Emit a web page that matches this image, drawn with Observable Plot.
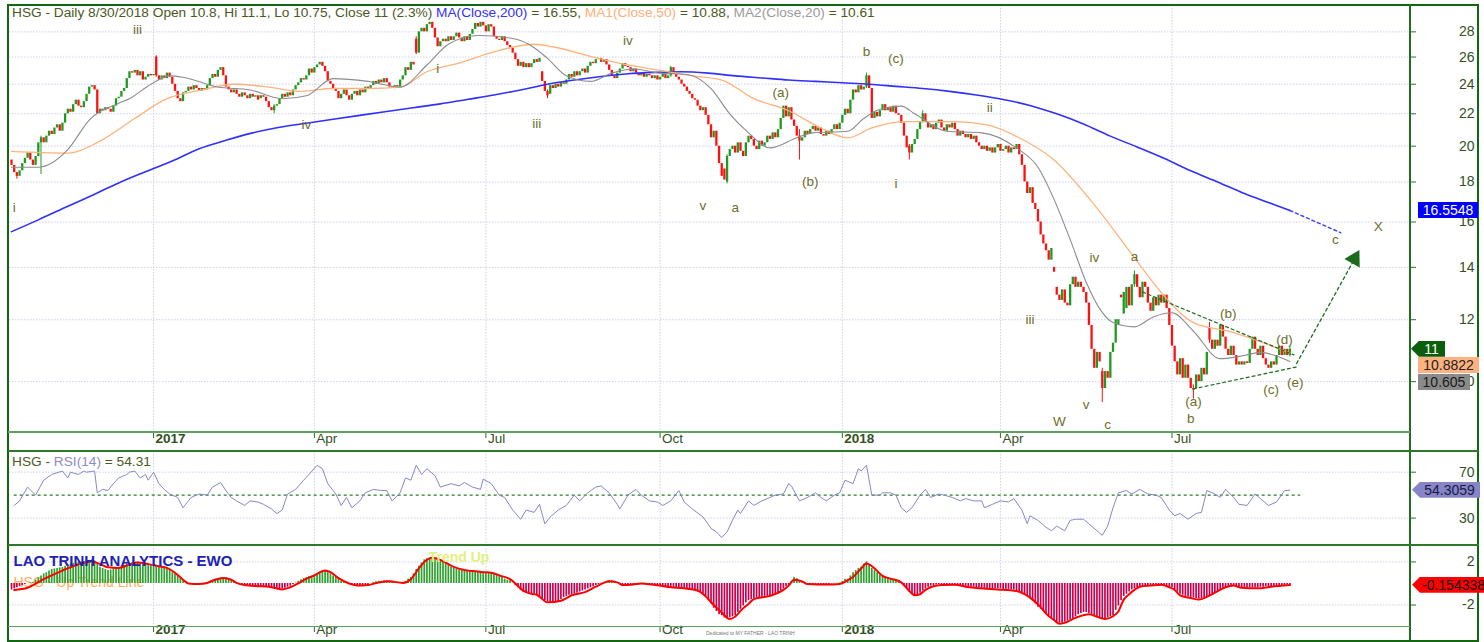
<!DOCTYPE html>
<html>
<head>
<meta charset="utf-8">
<script src="https://cdn.jsdelivr.net/npm/d3@7"></script>
<script src="https://cdn.jsdelivr.net/npm/@observablehq/plot@0.6"></script>
<style>
  html, body { margin: 0; padding: 0; background: #fff; }
  #wrap { position: relative; width: 1484px; height: 642px; overflow: hidden; background: #fff; font-family: "Liberation Sans", Arial, sans-serif; }
  #wrap > svg { position: absolute; left: 0; }
  .ln { position: absolute; z-index: 4; }
  .txt { position: absolute; white-space: nowrap; font-size: 13.7px; line-height: 16px; color: #4a5a1e; z-index: 5; }
  .badge { position: absolute; height: 16px; line-height: 16px; font-size: 14px; text-align: center; z-index: 6; white-space: nowrap; overflow: hidden; box-sizing: border-box; }
</style>
</head>
<body>
<div id="wrap"></div>
<script>
// ---------------- DATA ----------------
// trading-day index ticks on the date axis
const dateTickIdx = [53, 113, 177, 242, 310, 369, 433];
const dateTickLabel = ["2017", "Apr", "Jul", "Oct", "2018", "Apr", "Jul"];

const priceTicks = [10, 12, 14, 16, 18, 20, 22, 24, 26, 28];
const rsiTicks = [30, 70];
const ewoTicks = [-2, 2];

// daily candles (index 0 .. 477), last = 8/30/2018
const open = [
  19.2,18.9,18.5,18.3,18.6,19.0,19.3,19.6,19.2,18.9,
  19.4,20.2,20.5,20.2,20.6,20.9,20.7,21.1,21.3,20.9,
  21.4,22.0,22.3,22.1,22.6,22.9,22.5,22.4,22.8,23.3,
  23.8,23.9,23.6,22.0,22.3,22.2,22.4,22.3,22.1,22.5,
  23.0,23.1,23.5,23.7,24.4,24.9,24.8,25.0,24.6,24.9,
  24.3,24.5,24.7,24.6,26.0,24.6,24.3,24.6,24.4,24.8,
  24.5,24.0,23.5,23.0,22.8,23.4,23.5,23.8,23.6,23.9,
  23.7,23.5,23.7,23.6,23.9,24.4,24.7,24.5,25.0,25.2,
  24.6,23.8,23.6,23.4,23.6,23.3,23.1,23.4,23.2,23.0,
  23.3,23.1,23.2,23.0,23.2,23.1,22.8,22.4,22.2,22.5,
  22.6,23.0,23.3,23.1,23.4,23.2,23.6,23.9,24.1,24.4,
  24.3,24.6,25.1,24.8,25.2,25.4,25.6,25.3,24.9,24.2,
  24.0,23.7,23.5,23.0,23.3,23.6,23.2,22.9,23.3,23.5,
  23.2,23.6,23.4,23.8,23.7,23.9,24.2,24.0,24.3,24.1,
  24.4,24.1,23.8,23.7,23.9,23.8,24.3,24.6,25.2,25.0,
  25.6,27.4,26.3,28.0,28.3,28.0,28.6,28.8,28.3,27.5,
  26.8,27.2,27.4,27.2,27.6,27.3,27.6,27.9,27.5,27.2,
  27.6,27.3,27.8,28.2,28.7,28.4,28.8,28.5,28.0,28.6,
  28.4,27.6,27.4,27.3,27.6,27.2,26.9,26.7,26.3,25.8,
  25.3,25.6,25.2,25.5,25.2,25.5,25.8,25.6,24.9,24.2,
  23.5,23.3,23.9,23.7,24.0,23.8,24.1,24.0,24.3,24.7,
  24.5,24.9,24.6,24.9,25.1,24.8,25.3,25.6,25.5,25.8,
  25.9,25.6,25.8,25.4,25.0,24.6,24.4,24.8,25.1,25.5,
  25.3,25.2,24.9,25.1,24.8,24.6,24.8,24.5,24.7,24.6,
  24.4,24.6,24.3,24.5,24.7,24.4,24.6,25.2,24.7,24.5,
  24.3,24.0,23.8,23.5,23.3,23.0,22.9,22.5,22.2,22.4,
  21.9,21.3,20.5,20.9,20.0,19.0,18.7,18.0,19.4,19.8,
  20.0,19.6,20.2,19.7,19.4,20.2,20.6,20.4,20.0,19.8,
  20.3,20.0,20.2,20.6,20.4,20.8,20.5,21.0,21.7,22.5,
  21.8,22.4,21.6,21.2,20.6,20.3,20.5,20.9,20.7,21.0,
  21.2,20.9,21.1,20.7,20.6,20.9,20.7,21.0,21.3,21.0,
  21.4,21.9,22.3,22.0,22.9,23.6,23.4,23.9,23.6,23.8,
  24.6,23.7,21.7,22.1,21.8,22.2,22.6,22.2,22.4,22.1,
  22.5,22.0,21.9,21.4,20.6,20.0,19.6,20.1,20.4,21.0,
  21.5,22.0,21.5,21.1,21.3,21.0,21.4,21.6,21.1,20.9,
  21.3,21.1,21.4,21.0,20.6,20.9,20.7,20.5,20.7,20.4,
  20.6,20.2,20.0,19.8,20.0,19.7,19.9,19.6,19.9,20.1,
  19.7,19.8,20.0,19.6,19.9,19.8,20.1,19.5,18.9,18.0,
  17.4,17.7,16.9,16.6,16.0,15.4,15.0,14.7,14.3,14.0,
  13.2,12.9,12.7,13.1,12.6,12.5,13.3,13.6,13.2,13.4,
  13.2,13.0,12.6,11.8,11.0,10.4,10.9,10.3,9.8,10.3,
  10.1,10.9,11.2,11.8,12.9,12.2,12.4,13.2,12.5,13.3,
  13.7,13.2,12.8,13.4,13.2,12.6,12.3,12.8,12.5,12.9,
  12.6,12.9,12.4,11.8,11.1,10.6,10.2,10.7,10.1,10.5,
  10.1,9.8,9.8,10.2,10.0,10.4,10.2,11.7,11.3,11.0,
  11.3,11.1,11.8,11.4,11.0,10.8,11.1,10.8,10.5,10.6,
  10.5,10.6,10.55,11.0,11.4,11.0,10.8,11.1,10.7,10.5,
  10.4,10.6,10.5,10.8,11.1,10.8,11.0,10.8
];
const close = [
  18.9,18.5,18.3,18.6,19.0,19.3,19.6,19.2,18.9,19.4,
  20.2,20.5,20.2,20.6,20.9,20.7,21.1,21.3,20.9,21.4,
  22.0,22.3,22.1,22.6,22.9,22.5,22.4,22.8,23.3,23.8,
  23.9,23.6,22.0,22.3,22.2,22.4,22.3,22.1,22.5,23.0,
  23.1,23.5,23.7,24.4,24.9,24.8,25.0,24.6,24.9,24.3,
  24.5,24.7,24.6,24.7,24.6,24.3,24.6,24.4,24.8,24.5,
  24.0,23.5,23.0,22.8,23.4,23.5,23.8,23.6,23.9,23.7,
  23.5,23.7,23.6,23.9,24.4,24.7,24.5,25.0,25.2,24.6,
  23.8,23.6,23.4,23.6,23.3,23.1,23.4,23.2,23.0,23.3,
  23.1,23.2,22.9,23.2,23.1,22.8,22.4,22.2,22.5,22.6,
  23.0,23.3,23.1,23.4,23.2,23.6,23.9,24.1,24.4,24.3,
  24.6,25.1,24.8,25.2,25.4,25.6,25.3,24.9,24.2,24.0,
  23.7,23.5,23.0,23.3,23.6,23.2,22.9,23.3,23.5,23.2,
  23.6,23.4,23.8,23.7,23.9,24.2,24.0,24.3,24.1,24.4,
  24.1,23.8,23.7,23.9,23.8,24.3,24.6,25.2,25.0,25.6,
  25.4,26.3,28.0,28.3,28.0,28.6,28.8,28.3,27.5,26.8,
  27.2,27.4,27.2,27.6,27.3,27.6,27.9,27.5,27.2,27.6,
  27.3,27.8,28.2,28.7,28.4,28.8,28.5,28.0,28.6,28.4,
  27.6,27.4,27.3,27.6,27.2,26.9,26.7,26.3,25.8,25.3,
  25.6,25.2,25.5,25.2,25.5,25.8,25.6,25.9,24.2,23.5,
  23.2,23.9,23.7,24.0,23.8,24.1,24.0,24.3,24.7,24.5,
  24.9,24.6,24.9,25.1,24.8,25.3,25.6,25.5,25.8,25.9,
  25.6,25.8,25.4,25.0,24.6,24.4,24.8,25.1,25.5,25.3,
  25.2,24.9,25.1,24.8,24.6,24.8,24.5,24.7,24.6,24.4,
  24.6,24.3,24.5,24.7,24.4,24.6,25.2,24.7,24.5,24.3,
  24.0,23.8,23.5,23.3,23.0,22.9,22.5,22.2,22.4,21.9,
  21.3,20.5,20.9,20.0,19.0,18.3,18.1,19.4,19.8,20.0,
  19.6,20.2,19.7,19.4,20.2,20.6,20.4,20.0,19.8,20.3,
  20.0,20.2,20.6,20.4,20.8,20.5,21.0,21.7,22.5,21.8,
  22.4,21.6,21.2,20.6,20.3,20.5,20.9,20.7,21.0,21.2,
  20.9,21.1,20.7,20.6,20.9,20.7,21.0,21.3,21.0,21.4,
  21.9,22.3,22.0,22.9,23.6,23.4,23.9,23.6,23.8,24.6,
  23.7,21.7,22.1,21.8,22.2,22.6,22.2,22.4,22.1,22.5,
  22.0,21.9,21.4,20.6,19.9,19.6,20.1,20.4,21.0,21.5,
  22.0,21.5,21.1,21.3,21.0,21.4,21.6,21.1,20.9,21.3,
  21.1,21.4,21.0,20.6,20.9,20.7,20.5,20.7,20.4,20.6,
  20.2,20.0,19.8,20.0,19.7,19.9,19.6,19.9,20.1,19.7,
  19.8,20.0,19.6,19.9,19.8,20.1,19.5,18.9,18.0,17.4,
  17.7,16.9,16.6,16.0,15.4,15.0,14.7,14.3,14.8,13.8,
  12.9,12.7,13.1,12.6,12.5,13.3,13.6,13.2,13.4,13.2,
  13.0,12.6,11.8,11.0,10.4,10.9,10.6,9.8,10.3,10.1,
  10.9,11.2,12.0,12.0,12.8,13.0,13.2,12.5,13.3,13.7,
  13.2,12.8,13.4,13.2,12.6,12.3,12.8,12.5,12.9,12.6,
  12.9,12.4,11.8,11.1,10.6,10.2,10.7,10.1,10.5,10.1,
  9.8,9.75,10.2,10.0,10.4,10.2,10.9,11.3,11.0,11.3,
  11.1,11.8,11.4,11.0,10.8,11.1,10.8,10.5,10.6,10.5,
  10.6,10.55,11.0,11.4,11.0,10.8,11.1,10.7,10.5,10.4,
  10.6,10.5,10.8,11.1,10.8,11.0,10.8,11.0
];
// notable wicks (day index, high, low)
const wickIdx  = [2, 11, 54, 98, 151, 200, 246, 267, 294, 319, 335, 340, 407, 419, 441, 447, 477];
const wickHigh = [18.5, 20.6, 26.1, 22.6, 27.6, 23.6, 25.3, 19.5, 21.0, 24.8, 20.1, 22.2, 10.4, 13.85, 9.9, 11.9, 11.1];
const wickLow  = [18.15, 18.4, 24.5, 22.0, 26.2, 23.0, 24.5, 17.9, 19.2, 23.7, 19.2, 21.4, 9.4, 13.2, 9.5, 11.2, 10.75];

// moving averages (sampled)
const ma200Idx = [0,10,20,30,40,50,60,70,80,90,100,110,120,130,140,150,160,170,180,190,200,210,220,230,240,250,260,270,280,290,300,310,320,330,340,350,360,370,380,390,400,410,420,430,440,450,460,470,477];
const ma200Val = [15.55,16.1,16.7,17.3,17.95,18.55,19.15,19.85,20.35,20.8,21.15,21.4,21.65,21.9,22.15,22.4,22.65,22.95,23.25,23.6,24.0,24.3,24.55,24.75,24.85,24.9,24.8,24.6,24.45,24.3,24.2,24.1,24.0,23.85,23.7,23.5,23.25,22.95,22.55,22.0,21.35,20.6,19.95,19.3,18.6,18.0,17.4,16.9,16.55];
const ma200ProjIdx = [477, 496];
const ma200ProjVal = [16.55, 15.5];
const ma50Idx = [0,21,33,46,58,71,83,96,108,120,133,145,155,168,180,195,202,217,230,242,254,265,277,290,302,312,321,333,351,364,376,389,403,419,429,441,454,472,477];
const ma50Val = [19.7,19.6,20.3,21.7,23.0,23.6,24.0,23.8,23.5,23.7,23.7,23.8,24.9,25.6,26.4,27.0,26.8,26.0,25.4,25.0,24.6,24.3,23.0,22.2,21.1,20.5,21.1,21.5,21.5,21.3,20.5,19.2,17.0,14.4,13.0,11.9,11.6,11.05,10.88];
const ma20Idx = [0,10,21,29,40,44,52,59,64,77,89,101,110,120,133,145,155,163,174,186,193,200,207,216,224,232,242,252,261,268,275,283,293,299,312,318,324,332,337,349,362,375,383,389,395,401,406,411,419,426,433,441,451,460,466,473,477];
const ma20Val = [18.8,18.8,19.8,21.6,22.7,23.0,24.0,24.6,24.5,23.8,23.6,23.0,23.2,24.4,24.2,23.8,25.4,27.0,27.7,27.5,27.0,25.9,24.6,24.2,24.8,25.1,24.8,24.7,23.7,22.0,20.8,19.9,20.5,20.8,20.9,21.7,22.3,22.5,22.0,20.9,20.8,19.9,18.8,17.1,15.2,13.4,12.4,11.9,11.75,12.1,12.25,11.6,10.7,10.8,10.9,10.75,10.61];

// Elliott wave labels
const waveText  = ["iii","i","iv","i","iii","iv","v","a","(a)","(b)","b","(c)","i","ii","iv","a","iii","v","W","c","(b)","(d)","(a)","b","(c)","(e)","c","X"];
const waveIdx   = [47,1,110,159,196,230,258,270,287,298,319,330,330,365,404,419,380,401,391,409,454,475,441,440,470,479,494,510];
const wavePrice = [28.2,16.7,21.3,25.1,21.4,27.3,16.8,16.7,23.4,18.0,26.4,25.9,17.9,22.4,14.4,14.45,12.0,9.35,8.9,8.8,12.2,11.3,9.43,8.97,9.77,9.97,15.2,15.8];

// triangle trend lines and projection arrow
const triUpperIdx = [422, 478.5], triUpperVal = [13.02, 10.82];
const triLowerIdx = [441, 480],   triLowerVal = [9.79, 10.45];
const arrowIdx = [479.5, 500.4],  arrowVal = [10.55, 14.2];
const arrowHeadIdx = [501.1],     arrowHeadVal = [14.36];

// RSI(14) (sampled)
const rsiIdx = [
  1,3,6,9,12,15,19,21,22,25, 27,28,31,32,34,36,38,40,43,44,
  46,48,50,51,53,55,57,59,62,64, 65,67,70,73,75,78,80,82,84,87,
  89,92,94,97,99,101,103,106,109,111, 114,116,118,121,123,125,127,130,132,135,
  138,140,142,145,147,149,151,153,155,158, 160,164,167,169,172,175,176,179,182,184,
  187,190,192,195,197,199,201,204,207,210, 212,215,218,220,223,226,227,230,233,235,
  238,241,243,246,249,251,254,258,261,263, 265,267,269,271,272,275,277,280,283,285,
  288,290,291,294,297,300,302,304,307,309, 311,314,316,317,319,321,324,325,328,330,
  332,334,336,339,341,343,346,348,351,354, 356,359,362,363,366,369,372,374,377,379,
  380,383,386,388,390,393,395,397,400,402, 405,407,409,411,413,416,418,421,424,427,
  429,432,434,436,439,442,444,446,449,451, 453,456,458,461,464,466,469,472,475,477
];
const rsiVal = [
  41,45,57,50,63,68,71,65,70,68, 71,70,71,52,55,54,60,65,68,70,
  71,65,68,63,70,60,55,51,48,39, 42,48,51,50,57,61,54,48,45,41,
  45,44,42,38,34,37,51,55,63,68, 76,73,60,51,41,48,39,45,52,55,
  54,54,45,52,65,63,76,68,73,67, 57,60,58,61,57,55,64,60,50,48,
  37,29,37,35,42,25,31,37,41,50, 45,52,57,58,52,42,38,50,55,50,
  45,44,41,45,54,44,38,31,21,18, 13,18,28,37,34,45,41,45,48,50,
  51,60,58,45,48,52,48,45,50,52, 63,60,73,71,76,50,50,52,52,50,
  39,35,39,50,55,48,51,50,48,45, 47,45,45,39,42,45,44,47,37,25,
  32,28,22,19,23,19,28,29,29,25, 19,15,23,39,52,54,51,55,51,50,
  48,37,32,34,29,34,35,54,51,48, 55,48,42,41,51,47,41,44,54,54.31
];

// EWO histogram (daily)
const ewo = [
  -0.6,-0.5,-0.4,-0.3, -0.2,-0.1,0.0,0.05, 0.1,0.3,0.5,0.7, 0.9,1.0,1.15,1.3,
  1.35,1.4,1.45,1.5, 1.6,1.7,1.8,1.85, 1.9,2.0,2.0,2.05, 2.1,2.15,2.2,2.1,
  1.8,1.5,1.4,1.3, 1.2,1.25,1.35,1.45, 1.5,1.6,1.7,1.8, 1.85,1.9,1.95,2.0,
  1.95,1.9,1.8,1.75, 1.7,1.65,1.6,1.55, 1.5,1.5,1.4,1.2, 1.0,0.9,0.7,0.45,
  0.25,0.1,-0.05,-0.1, -0.1,-0.1,-0.05,0.02, 0.05,0.1,0.2,0.3, 0.4,0.45,0.5,0.55,
  0.55,0.45,0.25,0.1, 0.02,-0.1,-0.15,-0.2, -0.25,-0.3,-0.3,-0.3, -0.3,-0.3,-0.3,-0.3,
  -0.35,-0.4,-0.45,-0.5, -0.5,-0.5,-0.45,-0.35, -0.25,-0.1,0.05,0.2, 0.35,0.45,0.55,0.65,
  0.7,0.8,0.9,1.05, 1.15,1.2,1.1,0.9, 0.7,0.55,0.4,0.2, 0.1,0.02,-0.1,-0.2,
  -0.2,-0.2,-0.2,-0.2, -0.15,-0.1,0.02,0.1, 0.15,0.2,0.2,0.25, 0.25,0.2,0.15,0.1,
  0.1,0.1,0.1,0.2, 0.4,0.55,0.9,1.3, 1.6,1.9,2.2,2.3, 2.35,2.4,2.35,2.25,
  2.15,2.1,1.9,1.7, 1.5,1.4,1.3,1.25, 1.2,1.15,1.15,1.1, 1.1,1.1,1.1,1.05,
  1.05,1.0,1.0,1.0, 0.9,0.8,0.7,0.55, 0.4,0.3,0.25,0.02, -0.2,-0.4,-0.65,-0.85,
  -0.9,-0.95,-1.0,-1.0, -1.1,-1.3,-1.45,-1.6, -1.7,-1.75,-1.8,-1.8, -1.7,-1.5,-1.3,-1.2,
  -1.1,-1.05,-1.0,-0.9, -0.8,-0.7,-0.6,-0.5, -0.4,-0.3,-0.2,-0.1, 0.02,0.1,0.2,0.25,
  0.25,0.2,0.05,-0.1, -0.15,-0.15,-0.15,-0.1, -0.1,-0.05,0.02,0.02, 0.02,-0.05,-0.1,-0.1,
  -0.15,-0.2,-0.25,-0.3, -0.3,-0.3,-0.35,-0.35, -0.4,-0.4,-0.45,-0.45, -0.5,-0.5,-0.55,-0.65,
  -0.8,-0.9,-1.0,-1.3, -1.6,-1.9,-2.3,-2.6, -2.9,-3.0,-3.2,-3.3, -3.2,-3.1,-3.0,-2.7,
  -2.4,-2.1,-1.8,-1.6, -1.5,-1.4,-1.35,-1.3, -1.25,-1.2,-1.2,-1.15, -1.05,-0.95,-0.85,-0.7,
  -0.5,-0.3,-0.2,0.2, 0.55,0.45,0.3,0.1, 0.02,-0.05,-0.1,-0.1, -0.1,-0.1,-0.1,-0.1,
  -0.1,-0.1,-0.05,-0.05, 0.02,0.05,0.2,0.4, 0.4,0.7,1.0,1.2, 1.4,1.5,1.8,2.0,
  1.7,1.4,1.2,1.0, 0.8,0.65,0.55,0.5, 0.45,0.4,0.3,0.2, 0.02,-0.2,-0.5,-0.8,
  -1.0,-1.1,-1.15,-0.9, -0.7,-0.5,-0.35,-0.25, -0.2,-0.15,-0.1,-0.1, -0.1,-0.1,-0.1,-0.1,
  -0.1,-0.15,-0.2,-0.25, -0.3,-0.3,-0.35,-0.35, -0.4,-0.4,-0.45,-0.45, -0.5,-0.5,-0.5,-0.5,
  -0.5,-0.5,-0.55,-0.55, -0.55,-0.6,-0.6,-0.7, -0.8,-0.85,-1.0,-1.2, -1.4,-1.6,-1.9,-2.2,
  -2.4,-2.6,-2.8,-3.0, -3.2,-3.4,-3.6,-3.7, -3.7,-3.6,-3.5,-3.4, -3.3,-3.1,-2.9,-2.8,
  -2.7,-2.7,-2.8,-2.9, -3.0,-3.1,-3.2,-3.3, -3.3,-3.2,-3.1,-3.0, -2.5,-2.1,-1.6,-1.2,
  -1.0,-0.8,-0.6,-0.5, -0.4,-0.35,-0.3,-0.25, -0.2,-0.2,-0.2,-0.15, -0.15,-0.1,-0.2,-0.3,
  -0.35,-0.4,-0.6,-0.8, -1.0,-1.1,-1.2,-1.25, -1.3,-1.35,-1.4,-1.45, -1.4,-1.35,-1.25,-1.15,
  -1.0,-0.85,-0.7,-0.55, -0.45,-0.35,-0.3,-0.25, -0.2,-0.3,-0.35,-0.4, -0.4,-0.4,-0.4,-0.4,
  -0.4,-0.4,-0.35,-0.35, -0.3,-0.3,-0.3,-0.3, -0.25,-0.25,-0.2,-0.2, -0.15,-0.154
];
// EWO signal line (sampled)
const sigIdx = [
  1,6,12,19,24,30,33,36,40,44, 47,51,55,58,61,64,66,70,73,76,
  79,82,84,87,92,96,101,104,107,109, 113,117,119,122,126,129,133,137,141,146,
  149,152,154,157,160,163,165,169,172,176, 179,182,186,188,190,193,196,200,205,209,
  214,218,221,223,226,228,232,235,239,246, 251,256,259,262,265,268,271,272,275,277,
  283,288,290,292,295,297,304,309,312,314, 317,319,322,325,328,332,335,337,339,341,
  344,347,352,356,361,368,375,378,381,384, 386,389,391,393,397,402,405,408,411,413,
  415,417,419,421,425,429,432,434,436,440, 443,446,448,450,453,456,459,465,470,477
];
const sigVal = [
  -0.6,-0.4,0.4,1.2,1.7,2.05,1.8,1.5,1.45,1.75, 1.95,1.8,1.6,1.45,1.0,0.35,0.0,-0.05,0.05,0.35,
  0.5,0.35,0.05,-0.15,-0.25,-0.3,-0.55,-0.35,0.0,0.3, 0.75,1.2,1.05,0.5,0.0,-0.2,-0.15,0.1,0.2,0.05,
  0.4,1.4,2.0,2.4,2.2,1.8,1.55,1.25,1.15,1.05, 1.0,0.75,0.4,0.0,-0.5,-0.9,-1.05,-1.75,-1.6,-1.1,
  -0.8,-0.3,0.05,0.2,0.1,-0.15,-0.1,0.0,-0.1,-0.35, -0.45,-0.65,-1.2,-2.0,-2.7,-3.3,-2.85,-2.55,-1.9,-1.45,
  -1.15,-0.6,-0.2,0.35,0.2,-0.05,-0.1,-0.05,0.3,0.6, 1.4,1.85,1.4,0.7,0.45,0.1,-0.7,-1.1,-1.0,-0.6,
  -0.25,-0.15,-0.12,-0.3,-0.45,-0.55,-0.7,-1.0,-1.5,-2.2, -2.8,-3.4,-3.75,-3.65,-3.2,-2.85,-3.1,-3.3,-3.05,-2.6,
  -1.5,-1.0,-0.6,-0.3,-0.2,-0.12,-0.35,-0.6,-1.1,-1.35, -1.5,-1.25,-1.0,-0.7,-0.35,-0.2,-0.4,-0.45,-0.3,-0.15
];
const ewoNoteText = ["Trend Up"], ewoNoteIdx = [167], ewoNoteVal = [2.42];

// last values shown in the right-hand badges
const lastMA200 = 16.5548, lastClose = 11, lastMA50 = 10.8822, lastMA20 = 10.605;
const lastRSI = 54.3059, lastEWO = -0.154338;

// ---------------- CHART ----------------
const FONT = '"Liberation Sans", Arial, sans-serif';
const W = 1484, mL = 9, mR = 74;
const xDomain = [-0.75, 522];
const GRID = "#cfcfee", AXIS = "#2e6e2e", LBL = "#34501f", WAVE = "#6e6e2a";
const GREEN = "#1f9a1f", RED = "#ff1010";
const gridOpt = {stroke: GRID, strokeDasharray: "1.5,1.5", strokeWidth: 1};

const pts = (ix, vs) => ix.map((i, k) => ({i, v: vs[k]}));
const candles = close.map((c, i) => ({i, o: open[i], c}));
const upC = candles.filter(d => d.c >= d.o), dnC = candles.filter(d => d.c < d.o);
const wicks = wickIdx.map((i, k) => ({i, hi: wickHigh[k], lo: wickLow[k], up: close[i] >= open[i]}));
const waves = waveText.map((t, k) => ({t, i: waveIdx[k], v: wavePrice[k]}));
const dateTicks = dateTickIdx.map((i, k) => ({i, label: dateTickLabel[k], year: /^\d{4}$/.test(dateTickLabel[k])}));

function dateMarks(dy) {
  return [
    Plot.axisX(dateTickIdx, {anchor: "bottom", tickSize: 6, tickFormat: () => "", fill: "none", stroke: AXIS, label: null}),
    Plot.text(dateTicks.filter(d => d.year), {x: "i", text: "label", frameAnchor: "bottom", dy, dx: 2, textAnchor: "start", fontWeight: "bold", fill: LBL, fontSize: 13.5}),
    Plot.text(dateTicks.filter(d => !d.year), {x: "i", text: "label", frameAnchor: "bottom", dy, dx: 2, textAnchor: "start", fill: LBL, fontSize: 13.5})
  ];
}
function rightAxis(ticks) {
  return [
    Plot.axisY(ticks, {anchor: "right", tickSize: 5, tickFormat: () => "", fill: "none", stroke: AXIS, label: null}),
    Plot.text(ticks, {y: d => d, text: d => String(d), frameAnchor: "right", dx: 64, textAnchor: "end", fill: LBL, fontSize: 14})
  ];
}

const main = Plot.plot({
  width: W, height: 452, marginTop: 5, marginBottom: 20, marginLeft: mL, marginRight: mR,
  style: {background: "transparent", fontFamily: FONT, overflow: "visible"},
  x: {domain: xDomain, axis: null},
  y: {type: "log", domain: [8.61, 30.26], axis: null},
  marks: [
    Plot.ruleY(priceTicks, gridOpt),
    Plot.ruleX(dateTickIdx, gridOpt),
    Plot.ruleX(wicks.filter(d => d.up), {x: "i", y1: "lo", y2: "hi", stroke: GREEN, strokeWidth: 1}),
    Plot.ruleX(wicks.filter(d => !d.up), {x: "i", y1: "lo", y2: "hi", stroke: RED, strokeWidth: 1}),
    Plot.ruleX(upC, {x: "i", y1: "o", y2: "c", stroke: GREEN, strokeWidth: 2.3}),
    Plot.ruleX(dnC, {x: "i", y1: "o", y2: "c", stroke: RED, strokeWidth: 2.3}),
    Plot.line(pts(ma200Idx, ma200Val), {x: "i", y: "v", stroke: "#2f2fff", strokeWidth: 1.6, curve: "monotone-x"}),
    Plot.line(pts(ma200ProjIdx, ma200ProjVal), {x: "i", y: "v", stroke: "#3a3aff", strokeWidth: 1.4, strokeDasharray: "3,3"}),
    Plot.line(pts(ma50Idx, ma50Val), {x: "i", y: "v", stroke: "#ffb27a", strokeWidth: 1.3, curve: "monotone-x"}),
    Plot.line(pts(ma20Idx, ma20Val), {x: "i", y: "v", stroke: "#8c8c8c", strokeWidth: 1.1, curve: "monotone-x"}),
    Plot.line(pts(triUpperIdx, triUpperVal), {x: "i", y: "v", stroke: "#1c6b1c", strokeWidth: 1.2, strokeDasharray: "3,3"}),
    Plot.line(pts(triLowerIdx, triLowerVal), {x: "i", y: "v", stroke: "#1c6b1c", strokeWidth: 1.2, strokeDasharray: "3,3"}),
    Plot.line(pts(arrowIdx, arrowVal), {x: "i", y: "v", stroke: "#1c6b1c", strokeWidth: 1.3, strokeDasharray: "3,3"}),
    Plot.dot(pts(arrowHeadIdx, arrowHeadVal), {x: "i", y: "v", symbol: "triangle", r: 6.5, fill: "#1c6b1c", stroke: "none", rotate: 29}),
    Plot.text(waves, {x: "i", y: "v", text: "t", fill: WAVE, fontSize: 13.5}),
    ...rightAxis(priceTicks),
    ...dateMarks(10)
  ]
});
main.style.top = "0px";

const rsi = Plot.plot({
  width: W, height: 93, marginTop: 0, marginBottom: 0, marginLeft: mL, marginRight: mR,
  style: {background: "transparent", fontFamily: FONT, overflow: "visible"},
  x: {domain: xDomain, axis: null},
  y: {domain: [7, 88], axis: null},
  marks: [
    Plot.ruleY(rsiTicks, gridOpt),
    Plot.ruleX(dateTickIdx, gridOpt),
    Plot.ruleY([50], {x1: rsiIdx[0], x2: rsiIdx[rsiIdx.length - 1] + 4, stroke: "#2a7a2a", strokeDasharray: "3,3", strokeWidth: 1.3}),
    Plot.line(pts(rsiIdx, rsiVal), {x: "i", y: "v", stroke: "#8787c7", strokeWidth: 1}),
    ...rightAxis(rsiTicks)
  ]
});
rsi.style.top = "451px";

const ewoData = ewo.map((v, i) => ({i, v}));
const ewoPlot = Plot.plot({
  width: W, height: 97, marginTop: 0, marginBottom: 16, marginLeft: mL, marginRight: mR,
  style: {background: "transparent", fontFamily: FONT, overflow: "visible"},
  x: {domain: xDomain, axis: null},
  y: {domain: [-4, 3.53], axis: null},
  marks: [
    Plot.ruleY(ewoTicks, gridOpt),
    Plot.ruleX(dateTickIdx, gridOpt),
    Plot.text(["HSG - Up Trend Line"], {frameAnchor: "top-left", dx: 4, dy: 32, text: d => d, textAnchor: "start", fill: "#ffad5c", fontSize: 14}),
    Plot.ruleX(ewoData.filter(d => d.v >= 0), {x: "i", y1: 0, y2: "v", stroke: "#2f9f2f", strokeWidth: 1.7}),
    Plot.ruleX(ewoData.filter(d => d.v < 0), {x: "i", y1: 0, y2: "v", stroke: "#c8004f", strokeWidth: 1.7}),
    Plot.line(pts(sigIdx, sigVal), {x: "i", y: "v", stroke: "#ff0000", strokeWidth: 2, curve: "monotone-x"}),
    Plot.text(["LAO TRINH ANALYTICS - EWO"], {frameAnchor: "top-left", dx: 4, dy: 10, text: d => d, textAnchor: "start", fill: "#2022b4", fontWeight: "bold", fontSize: 15}),
    Plot.text(ewoNoteText.map((t, k) => ({t, i: ewoNoteIdx[k], v: ewoNoteVal[k]})), {x: "i", y: "v", text: "t", fill: "#e3f27c", fontWeight: "bold", fontSize: 14}),
    ...rightAxis(ewoTicks),
    ...dateMarks(7)
  ]
});
ewoPlot.style.top = "545px";

const wrap = document.getElementById("wrap");
wrap.append(main, rsi, ewoPlot);

// frame lines
function line(l, t, w, h, c) {
  const d = document.createElement("div");
  d.className = "ln";
  Object.assign(d.style, {left: l + "px", top: t + "px", width: w + "px", height: h + "px", background: c});
  wrap.appendChild(d);
}
line(7, 4, 1472, 2, "#106810");
line(7, 4, 2, 638, "#106810");
line(1477, 4, 2, 638, "#106810");
line(1409, 4, 2, 638, "#1d6e1d");
line(8, 431, 1402, 1.5, "#5f9f5f");
line(8, 450, 1471, 2, "#2a7a2a");
line(8, 543.5, 1471, 2, "#2a7a2a");
line(8, 625.5, 1402, 1.5, "#5f9f5f");
line(7, 640, 1472, 2, "#106810");

// titles
function txt(html, l, t, extra) {
  const d = document.createElement("div");
  d.className = "txt";
  d.innerHTML = html;
  d.style.left = l + "px"; d.style.top = t + "px";
  if (extra) Object.assign(d.style, extra);
  wrap.appendChild(d);
}
txt('HSG - Daily 8/30/2018 Open 10.8, Hi 11.1, Lo 10.75, Close 11 (2.3%) <span style="color:#3030ff">MA(Close,200)</span> = 16.55, <span style="color:#ffae78">MA1(Close,50)</span> = 10.88, <span style="color:#9a9a9a">MA2(Close,20)</span> = 10.61', 12, 5);
txt('HSG - <span style="color:#8c8cc8">RSI(14)</span> = 54.31', 12, 454);
txt('Dedicated to MY FATHER - LAO TRINH', 706, 630, {fontSize: "5px", lineHeight: "6px", color: "#777"});

// value badges on the right axis
function badge(text, left, yc, w, bg, color, arrow) {
  const d = document.createElement("div");
  d.className = "badge";
  d.textContent = text;
  Object.assign(d.style, {left: left + "px", top: (yc - 8) + "px", width: w + "px", background: bg, color});
  if (arrow) { d.style.clipPath = "polygon(0 50%, 8px 0, 100% 0, 100% 100%, 8px 100%)"; d.style.paddingLeft = "7px"; }
  wrap.appendChild(d);
}
const yM = v => main.scale("y").apply(v);
badge(String(lastMA200), 1418, yM(lastMA200), 60, "#0000ff", "#fff", false);
const b1 = yM(lastClose);
badge(String(lastClose), 1411, b1, 34, "#0b5e0b", "#fff", true);
const b2 = Math.max(yM(lastMA50), b1 + 16.5);
badge(String(lastMA50), 1418, b2, 61, "#ffb27f", "#222", false);
const b3 = Math.max(yM(lastMA20), b2 + 16.5);
badge(String(lastMA20), 1418, b3, 52, "#8a8a8a", "#1a1a1a", false);
badge(String(lastRSI), 1412, 451 + rsi.scale("y").apply(lastRSI), 68, "#8585c8", "#1a1a40", true);
badge(String(lastEWO), 1412, 545 + ewoPlot.scale("y").apply(lastEWO), 76, "#ff0000", "#111", true);
</script>
</body>
</html>
